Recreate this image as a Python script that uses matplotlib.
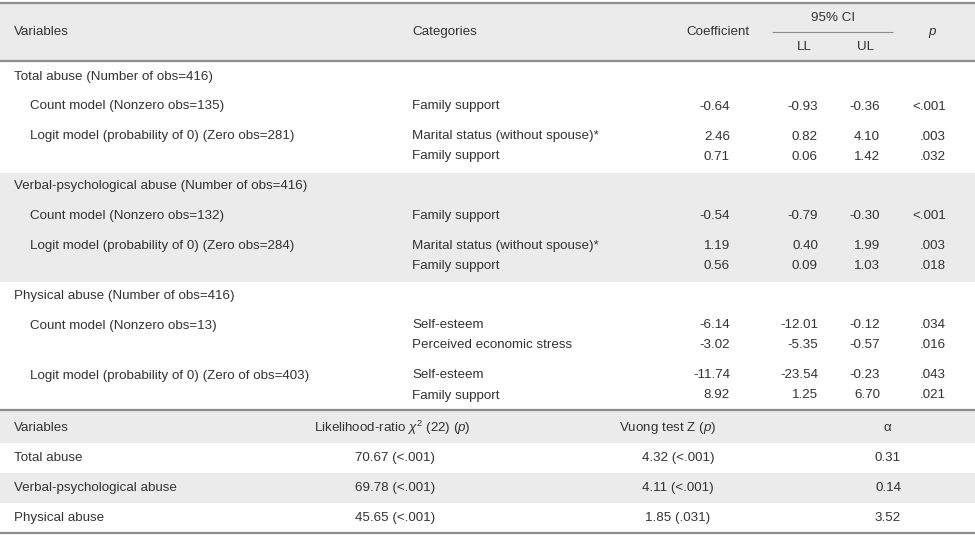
import numpy as np
import matplotlib
matplotlib.use('Agg')
import matplotlib.pyplot as plt

plt.rcParams['font.family'] = ['Liberation Sans', 'DejaVu Sans']
plt.rcParams['mathtext.fontset'] = 'custom'
plt.rcParams['mathtext.rm'] = 'Liberation Sans'
plt.rcParams['mathtext.it'] = 'Liberation Sans:italic'

# ---- data: upper table ----
sections = ["Total abuse (Number of obs=416)",
            "Verbal-psychological abuse (Number of obs=416)",
            "Physical abuse (Number of obs=416)"]
models = [["Count model (Nonzero obs=135)", "Logit model (probability of 0) (Zero obs=281)"],
          ["Count model (Nonzero obs=132)", "Logit model (probability of 0) (Zero obs=284)"],
          ["Count model (Nonzero obs=13)", "Logit model (probability of 0) (Zero of obs=403)"]]
categories = [[["Family support"], ["Marital status (without spouse)*", "Family support"]],
              [["Family support"], ["Marital status (without spouse)*", "Family support"]],
              [["Self-esteem", "Perceived economic stress"], ["Self-esteem", "Family support"]]]
coefs = [[["-0.64"], ["2.46", "0.71"]],
         [["-0.54"], ["1.19", "0.56"]],
         [["-6.14", "-3.02"], ["-11.74", "8.92"]]]
lls = [[["-0.93"], ["0.82", "0.06"]],
       [["-0.79"], ["0.40", "0.09"]],
       [["-12.01", "-5.35"], ["-23.54", "1.25"]]]
uls = [[["-0.36"], ["4.10", "1.42"]],
       [["-0.30"], ["1.99", "1.03"]],
       [["-0.12", "-0.57"], ["-0.23", "6.70"]]]
pvals = [[["<.001"], [".003", ".032"]],
         [["<.001"], [".003", ".018"]],
         [[".034", ".016"], [".043", ".021"]]]

# ---- data: lower table ----
fit_vars = ["Total abuse", "Verbal-psychological abuse", "Physical abuse"]
lr_chi2 = ["70.67 (<.001)", "69.78 (<.001)", "45.65 (<.001)"]
vuong = ["4.32 (<.001)", "4.11 (<.001)", "1.85 (.031)"]
alphas = ["0.31", "0.14", "3.52"]

TXT = '#333333'
BAND = '#ebebeb'
LINE = '#8c8c8c'
FS = 9.6

W, H = 975, 535
fig = plt.figure(figsize=(W / 100, H / 100), dpi=100)
ax = fig.add_axes([0, 0, 1, 1])
ax.set_xlim(0, W)
ax.set_ylim(H, 0)
ax.axis('off')

def t(x, y, s, ha='left', **kw):
    ax.text(x, y, s, ha=ha, va='center', fontsize=FS, color=TXT, **kw)

def band(y0, y1):
    ax.fill_between([0, W], y0, y1, color=BAND, lw=0, zorder=0)

def hline(y, x0=0, x1=W, lw=1.6):
    ax.plot([x0, x1], [y, y], color=LINE, lw=lw, solid_capstyle='butt')

# header of upper table
band(3, 61)
hline(3)
hline(61)
t(14, 32, "Variables")
t(412, 32, "Categories")
t(718, 32, "Coefficient", ha='center')
t(833, 18, "95% CI", ha='center')
hline(32, 772, 893, lw=0.8)
t(804, 47, "LL", ha='center')
t(866, 47, "UL", ha='center')
t(932, 32, "p", ha='center', style='italic')

# body of upper table
x_coef, x_ll, x_ul, x_p = 730, 818, 880, 946
y = 77
for si, sec in enumerate(sections):
    y_start = y - 14
    lines_y = []
    t(14, y, sec)
    y += 29.5
    for mi, mod in enumerate(models[si]):
        if mi > 0:
            y += 30
        t(30, y, mod)
        for ci, cat in enumerate(categories[si][mi]):
            if ci > 0:
                y += 20
            t(412, y, cat)
            t(x_coef, y, coefs[si][mi][ci], ha='right')
            t(x_ll, y, lls[si][mi][ci], ha='right')
            t(x_ul, y, uls[si][mi][ci], ha='right')
            t(x_p, y, pvals[si][mi][ci], ha='right')
    if si == 1:
        band(y_start, y + 16)
    y += 30

hline(410)

# lower table
band(411, 443)
t(14, 428, "Variables")
t(392, 428, r"Likelihood-ratio $\chi^2$ (22) ($p$)", ha='center')
t(668, 428, r"Vuong test Z ($p$)", ha='center')
t(887, 428, "\u03b1", ha='center')
row_y = 443
for i, name in enumerate(fit_vars):
    yc = row_y + 15 + 30 * i
    if i == 1:
        band(yc - 15, yc + 15)
    t(14, yc, name)
    t(395, yc, lr_chi2[i], ha='center')
    t(678, yc, vuong[i], ha='center')
    t(888, yc, alphas[i], ha='center')
hline(533)

fig.savefig('out.png', dpi=100)
